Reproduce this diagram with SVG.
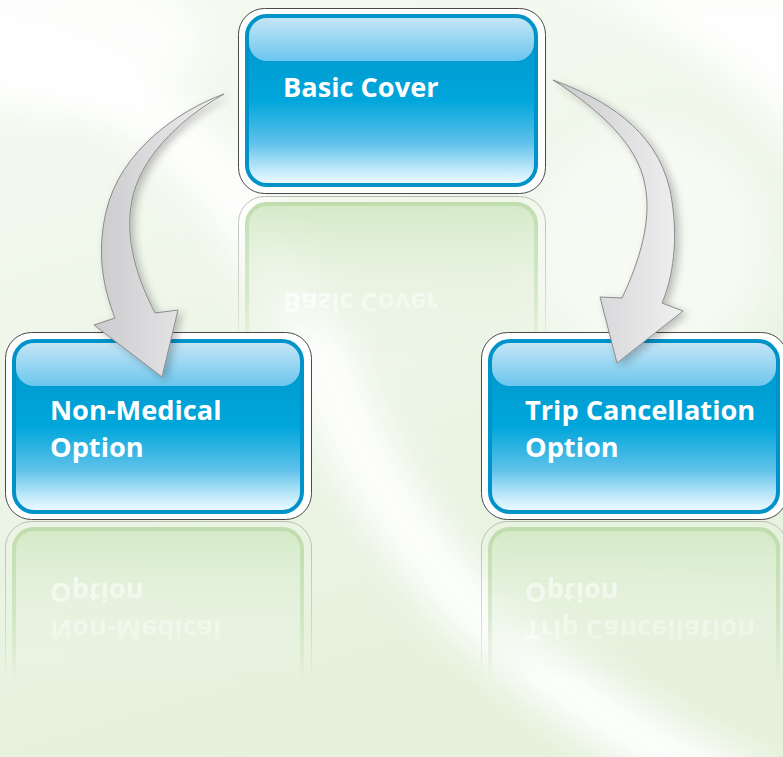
<svg xmlns="http://www.w3.org/2000/svg" width="783" height="757" viewBox="0 0 783 757">
<defs>
<style>
.outer{fill:#ffffff;stroke:#4a4a4a;stroke-width:1}
.inner{fill:url(#body);stroke:#0093c9;stroke-width:4}
.gloss{fill:url(#gloss)}
.lbl{font-family:"Open Sans","Noto Sans",sans-serif;font-weight:700;font-size:27.2px;fill:#ffffff}
.rlbl{font-family:"Open Sans","Noto Sans",sans-serif;font-weight:700;font-size:27.2px;fill:#ffffff;fill-opacity:0.75}
.router{fill:none;stroke:#b8bcb4;stroke-width:1}
.rinner{fill:url(#rbody);stroke:#bddbab;stroke-width:4}
.arrow{fill:url(#agrad);stroke:#8a8a8a;stroke-width:1;filter:url(#shadow)}
</style>
<linearGradient id="bg" x1="0" y1="0" x2="0.3" y2="1">
<stop offset="0" stop-color="#f6faf2"/>
<stop offset="0.5" stop-color="#eef6e8"/>
<stop offset="1" stop-color="#e5f1dc"/>
</linearGradient>
<linearGradient id="body" x1="0" y1="0" x2="0" y2="1">
<stop offset="0" stop-color="#0094c8"/>
<stop offset="0.5" stop-color="#00a6db"/>
<stop offset="0.75" stop-color="#5ec1ea"/>
<stop offset="0.93" stop-color="#cdeefc"/>
<stop offset="1" stop-color="#f2fbff"/>
</linearGradient>
<linearGradient id="gloss" x1="0" y1="0" x2="0" y2="1">
<stop offset="0" stop-color="#c4e5f6"/>
<stop offset="1" stop-color="#6cc6ee"/>
</linearGradient>
<linearGradient id="rbody" x1="0" y1="0" x2="0" y2="1">
<stop offset="0" stop-color="#d3e9c6"/>
<stop offset="0.4" stop-color="#e2f0da"/>
<stop offset="1" stop-color="#eef6ea"/>
</linearGradient>
<linearGradient id="fade" x1="0" y1="0" x2="0" y2="1">
<stop offset="0" stop-color="#fff" stop-opacity="1"/>
<stop offset="0.55" stop-color="#fff" stop-opacity="0.5"/>
<stop offset="0.85" stop-color="#fff" stop-opacity="0"/>
</linearGradient>
<mask id="m1" maskContentUnits="userSpaceOnUse"><rect x="230" y="195" width="320" height="190" fill="url(#fade)"/></mask>
<mask id="m2" maskContentUnits="userSpaceOnUse"><rect x="0" y="520" width="320" height="190" fill="url(#fade)"/></mask>
<mask id="m3" maskContentUnits="userSpaceOnUse"><rect x="475" y="520" width="308" height="190" fill="url(#fade)"/></mask>
<linearGradient id="agrad" x1="0" y1="0" x2="1" y2="0">
<stop offset="0" stop-color="#cbcbce"/>
<stop offset="1" stop-color="#f0f0f1"/>
</linearGradient>
<filter id="shadow" x="-30%" y="-20%" width="160%" height="140%">
<feGaussianBlur in="SourceAlpha" stdDeviation="4"/>
<feOffset dx="4" dy="3"/>
<feComponentTransfer><feFuncA type="linear" slope="0.25"/></feComponentTransfer>
<feMerge><feMergeNode/><feMergeNode in="SourceGraphic"/></feMerge>
</filter>
<filter id="blur" x="-20%" y="-20%" width="140%" height="140%"><feGaussianBlur stdDeviation="18"/></filter>
</defs>

<g id="background">
<rect x="0" y="0" width="783" height="757" fill="url(#bg)"/>
<path d="M -40 60 C 120 40, 260 180, 330 380 C 400 560, 520 690, 760 800" fill="none" stroke="#ffffff" stroke-width="60" filter="url(#blur)" opacity="0.95"/>
<path d="M 560 -20 C 700 40, 800 120, 820 200 L 820 -20 Z" fill="#ffffff" filter="url(#blur)" opacity="0.9"/>
<ellipse cx="60" cy="40" rx="140" ry="70" fill="#ffffff" filter="url(#blur)" opacity="0.8"/>
<ellipse cx="650" cy="250" rx="120" ry="120" fill="#ffffff" filter="url(#blur)" opacity="0.5"/>
</g>

<g id="reflections">
<g mask="url(#m1)">
<rect class="router" x="238.5" y="196.5" width="307" height="185" rx="26"/>
<rect class="rinner" x="247" y="204" width="289" height="169" rx="20"/>
<text class="rlbl" x="283" y="97" transform="translate(0 390) scale(1 -1)">Basic Cover</text>
</g>
<g mask="url(#m2)">
<rect class="router" x="5.5" y="521.5" width="306" height="187" rx="26"/>
<rect class="rinner" x="14" y="529" width="288" height="171" rx="20"/>
<text class="rlbl" transform="translate(0 1040) scale(1 -1)"><tspan x="50" y="420">Non-Medical</tspan><tspan x="50" y="457">Option</tspan></text>
</g>
<g mask="url(#m3)">
<rect class="router" x="481.5" y="521.5" width="306" height="187" rx="26"/>
<rect class="rinner" x="490" y="529" width="288" height="171" rx="20"/>
<text class="rlbl" transform="translate(0 1040) scale(1 -1)"><tspan x="525" y="420">Trip Cancellation</tspan><tspan x="525" y="457">Option</tspan></text>
</g>
</g>

<g id="node-basic-cover">
<rect class="outer" x="238.5" y="8.5" width="307" height="185" rx="26"/>
<rect class="inner" x="247" y="16" width="289" height="169" rx="20"/>
<rect class="gloss" x="249" y="18" width="285" height="43" rx="18"/>
<text class="lbl" x="283" y="97">Basic Cover</text>
</g>

<g id="node-non-medical">
<rect class="outer" x="5.5" y="332.5" width="306" height="187" rx="26"/>
<rect class="inner" x="14" y="341" width="288" height="171" rx="20"/>
<rect class="gloss" x="16" y="343" width="284" height="43" rx="18"/>
<text class="lbl"><tspan x="50" y="420">Non-Medical</tspan><tspan x="50" y="457">Option</tspan></text>
</g>

<g id="node-trip-cancellation">
<rect class="outer" x="481.5" y="332.5" width="306" height="187" rx="26"/>
<rect class="inner" x="490" y="341" width="288" height="171" rx="20"/>
<rect class="gloss" x="492" y="343" width="284" height="43" rx="18"/>
<text class="lbl"><tspan x="525" y="420">Trip Cancellation</tspan><tspan x="525" y="457">Option</tspan></text>
</g>

<g id="connectors">
<path class="arrow" d="M 224 94 C 180 110, 120 150, 106 212 C 96 255, 104 290, 115 318 L 94 325 L 162 377 L 178 310 L 155 313 C 138 280, 124 240, 132 200 C 140 160, 175 122, 224 94 Z"/>
<path class="arrow" d="M 553 80 C 602 98, 656 128, 670 190 C 680 240, 672 280, 662 303 L 683 311 L 617 363 L 600 297 L 622 298 C 640 260, 652 220, 645 185 C 638 145, 600 110, 553 80 Z"/>
</g>
</svg>
